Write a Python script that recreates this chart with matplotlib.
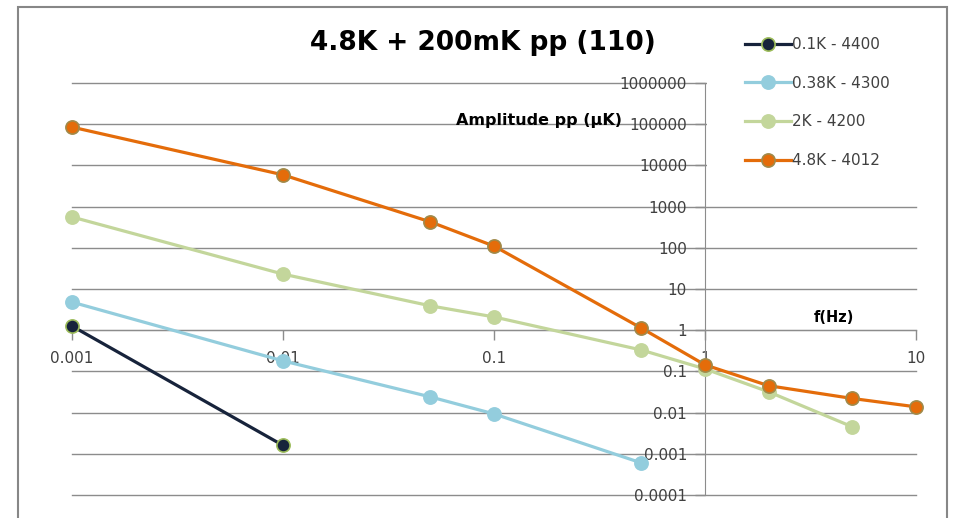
import matplotlib
matplotlib.use('Agg')
import matplotlib.pyplot as plt
from matplotlib.patches import Rectangle
from matplotlib.ticker import FixedLocator, FixedFormatter, NullLocator

# data (f in Hz, amplitude pp in uK)
f_01 = [0.001, 0.01]
amp_01 = [1.26, 0.0016]

f_038 = [0.001, 0.01, 0.05, 0.1, 0.5]
amp_038 = [4.8, 0.18, 0.024, 0.0093, 0.0006]

f_2 = [0.001, 0.01, 0.05, 0.1, 0.5, 1, 2, 5]
amp_2 = [560, 23, 3.9, 2.1, 0.33, 0.115, 0.032, 0.0045]

f_48 = [0.001, 0.01, 0.05, 0.1, 0.5, 1, 2, 5, 10]
amp_48 = [85000, 5900, 425, 110, 1.12, 0.144, 0.045, 0.022, 0.0138]

labels = ['0.1K - 4400', '0.38K - 4300', '2K - 4200', '4.8K - 4012']
colors = ['#17233b', '#93cddd', '#c3d69b', '#e46c0a']
edges = ['#9bbb59', '#93cddd', '#c3d69b', '#a08a4a']

x_ticks = [0.001, 0.01, 0.1, 1, 10]
x_labels = ['0.001', '0.01', '0.1', '1', '10']
y_ticks = [1e-4, 1e-3, 1e-2, 1e-1, 1, 10, 100, 1e3, 1e4, 1e5, 1e6]
y_labels = ['0.0001', '0.001', '0.01', '0.1', '1', '10', '100', '1000',
            '10000', '100000', '1000000']

W, H = 954, 518
fig = plt.figure(figsize=(W / 100, H / 100), dpi=100)
ax = fig.add_axes([72 / W, (H - 495) / H, 844 / W, 412 / H])

series = [(f_01, amp_01), (f_038, amp_038), (f_2, amp_2), (f_48, amp_48)]
for (xs, ys), lab, c, ec in zip(series, labels, colors, edges):
    ax.plot(xs, ys, color=c, lw=2.3, marker='o', ms=9.5, mfc=c, mec=ec,
            mew=1.2, label=lab, clip_on=False, zorder=3)

ax.set_xscale('log')
ax.set_yscale('log')
ax.set_xlim(0.001, 10)
ax.set_ylim(1e-4, 1e6)

gray = '#8c8c8c'
txt = '#404040'
ax.spines['top'].set_visible(False)
ax.spines['right'].set_visible(False)
ax.spines['left'].set_position(('data', 1))
ax.spines['bottom'].set_position(('data', 1))
ax.spines['left'].set_color(gray)
ax.spines['bottom'].set_color(gray)

ax.xaxis.set_major_locator(FixedLocator(x_ticks))
ax.xaxis.set_major_formatter(FixedFormatter(x_labels))
ax.xaxis.set_minor_locator(NullLocator())
ax.yaxis.set_major_locator(FixedLocator(y_ticks))
ax.yaxis.set_major_formatter(FixedFormatter(y_labels))
ax.yaxis.set_minor_locator(NullLocator())
ax.tick_params(axis='both', colors=gray, labelcolor=txt, labelsize=11,
               length=7, width=1, direction='out')
ax.tick_params(axis='x', pad=8)
ax.tick_params(axis='y', pad=6)
ax.grid(axis='y', color=gray, lw=1)
for gl in ax.get_ygridlines():
    gl.set_clip_on(False)

# legend area hides the upper gridlines right of the y axis
ax.add_patch(Rectangle((707 / W, 1 - 186 / H), 240 / W, 170 / H,
                       transform=fig.transFigure, facecolor='white',
                       edgecolor='none', zorder=1.8, clip_on=False))

ax.legend(loc='upper left', bbox_to_anchor=(745 / W, 1 - 37 / H),
          bbox_transform=fig.transFigure, frameon=False, fontsize=11,
          handlelength=3.0, handletextpad=0.1, labelspacing=1.55,
          borderpad=0, borderaxespad=0, labelcolor=txt)

fig.text(483 / W, 1 - 43 / H, '4.8K + 200mK pp (110)', fontsize=19,
         fontweight='bold', ha='center', va='center', color='black')
fig.text(456 / W, 1 - 120 / H, 'Amplitude pp (µK)', fontsize=11.5,
         fontweight='bold', ha='left', va='center', color='black')
fig.text(834 / W, 1 - 318 / H, 'f(Hz)', fontsize=10.5,
         fontweight='bold', ha='center', va='center', color='black')

# chart area border
fig.patches.append(Rectangle((18 / W, -0.1), 929 / W, 1.1 - 7 / H,
                             transform=fig.transFigure, fill=False,
                             edgecolor='#878787', lw=1.5))

fig.savefig('out.png', dpi=100)
